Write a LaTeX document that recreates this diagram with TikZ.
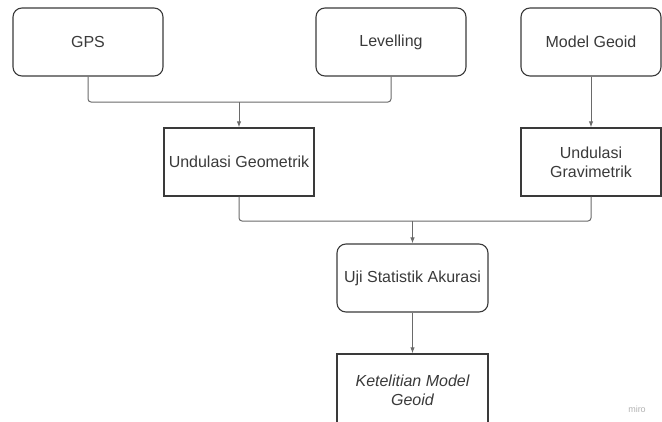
\documentclass[tikz,border=0pt]{standalone}
\usepackage{fontspec}
\setmainfont{Liberation Sans}
\usetikzlibrary{arrows.meta}
\definecolor{boxline}{HTML}{3A3A3A}
\definecolor{wireline}{HTML}{6A6A6A}

\begin{document}
\begin{tikzpicture}
[
    x=1pt, y=-1pt,
    every node/.style={font=\fontsize{16}{19}\selectfont, text=boxline},
    box/.style={draw=boxline, line width=1.4pt, minimum width=150pt, minimum height=68pt, align=center, inner sep=2pt},
    roundbox/.style={box, line width=1.1pt, rounded corners=9pt},
    wire/.style={draw=wireline, line width=1pt, rounded corners=3pt},
    arrow/.style={wire, -{Latex[length=6pt,width=4.5pt]}},
]
\useasboundingbox (0,0) rectangle (662,421);

\node [roundbox] (gps) at (88,42) {GPS};
\node [roundbox] (lev) at (391,42) {Levelling};
\node [roundbox, minimum width=140pt] (mg) at (591,42) {Model Geoid};

\node [box] (ug) at (239,162) {Undulasi Geometrik};
\node [box, minimum width=140pt] (ugr) at (591,162) {Undulasi\\Gravimetrik};

\node [roundbox, minimum width=151pt] (uji) at (412.5,278) {Uji Statistik Akurasi};
\node [box, minimum width=151pt, minimum height=72pt] (ket) at (412.5,390)
    {\itshape Ketelitian Model\\\itshape Geoid};

\node [font=\fontsize{9}{10}\selectfont, text=black!30] (miro) at (637,409) {miro};

\coordinate (join1) at (239,102);
\coordinate (join2) at (412.5,221);

\draw [wire] (gps.south) |- (join1) -| (lev.south);
\draw [arrow] (join1) -- (ug.north);
\draw [arrow] (mg.south) -- (ugr.north);
\draw [wire] (ug.south) |- (join2) -| (ugr.south);
\draw [arrow] (join2) -- (uji.north);
\draw [arrow] (uji.south) -- (ket.north);
\end{tikzpicture}
\end{document}
